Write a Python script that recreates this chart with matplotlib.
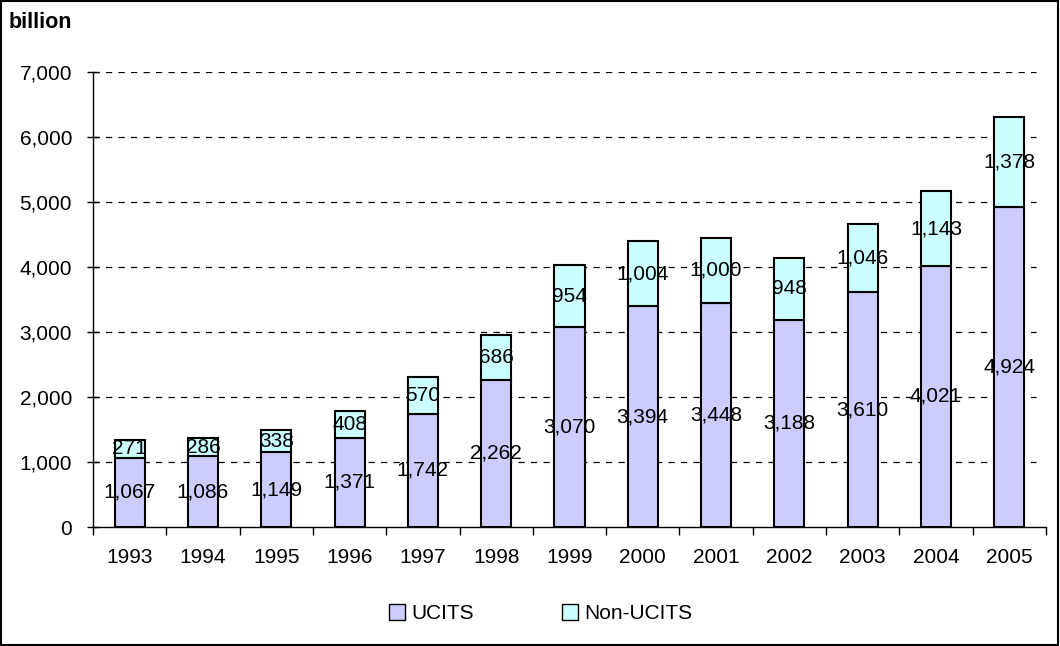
import matplotlib
matplotlib.use("Agg")
import matplotlib.pyplot as plt
from matplotlib.patches import Rectangle

plt.rcParams['font.family'] = ['Liberation Sans', 'DejaVu Sans']

# Data
years = ['1993', '1994', '1995', '1996', '1997', '1998', '1999',
         '2000', '2001', '2002', '2003', '2004', '2005']
ucits = [1067, 1086, 1149, 1371, 1742, 2262, 3070, 3394, 3448, 3188, 3610, 4021, 4924]
non_ucits = [271, 286, 338, 408, 570, 686, 954, 1004, 1000, 948, 1046, 1143, 1378]

fs = 15

fig = plt.figure(figsize=(10.6, 6.46), dpi=100)
ax = fig.add_axes([0.0877, 0.1842, 0.8991, 0.7043])

x = list(range(len(years)))
b1 = ax.bar(x, ucits, width=0.41, color='#CCCCFF', edgecolor='black', linewidth=1.5,
            label='UCITS', zorder=3)
b2 = ax.bar(x, non_ucits, width=0.41, bottom=ucits, color='#CCFFFF', edgecolor='black',
            linewidth=1.5, label='Non-UCITS', zorder=3)

# value labels in the middle of each segment
for i in x:
    ax.text(i, ucits[i] / 2, f"{ucits[i]:,}", ha='center', va='center', fontsize=fs, zorder=4)
    ax.text(i, ucits[i] + non_ucits[i] / 2, f"{non_ucits[i]:,}", ha='center', va='center',
            fontsize=fs, zorder=4)

ax.set_xlim(-0.5, len(years) - 0.5)
ax.set_ylim(0, 7000)
ax.set_yticks(range(0, 7001, 1000))
ax.set_yticklabels([f"{v:,}" for v in range(0, 7001, 1000)], fontsize=fs)
ax.set_xticks(x)
ax.set_xticklabels(years, fontsize=fs)
ax.set_xticks([i - 0.5 for i in range(len(years) + 1)], minor=True)
ax.tick_params(axis='x', which='major', length=0, pad=15)
ax.tick_params(axis='x', which='minor', length=6, width=1, direction='out')
ax.tick_params(axis='y', length=8, width=1, direction='inout', pad=11)

for y in range(1000, 7001, 1000):
    ax.axhline(y, xmax=0.99, color='black', linestyle=(0, (5, 5)), linewidth=0.9, zorder=1)

for s in ['top', 'right']:
    ax.spines[s].set_visible(False)
for s in ['left', 'bottom']:
    ax.spines[s].set_linewidth(1)
    ax.spines[s].set_zorder(5)

fig.text(0.008, 0.965, 'billion', fontsize=15.5, fontweight='bold', ha='left', va='center')

leg = fig.legend(handles=[b1, b2], loc='center', bbox_to_anchor=(0.51, 0.05), ncol=2,
                 frameon=False, fontsize=fs, handlelength=0.8, handleheight=0.8,
                 handletextpad=0.3, columnspacing=4.2)
for p in leg.get_patches():
    p.set_linewidth(1)

# outer border
fig.patches.append(Rectangle((0.001, 0.002), 0.997, 0.996, transform=fig.transFigure,
                             fill=False, edgecolor='black', linewidth=1.5))

fig.savefig('out.png', dpi=100)
